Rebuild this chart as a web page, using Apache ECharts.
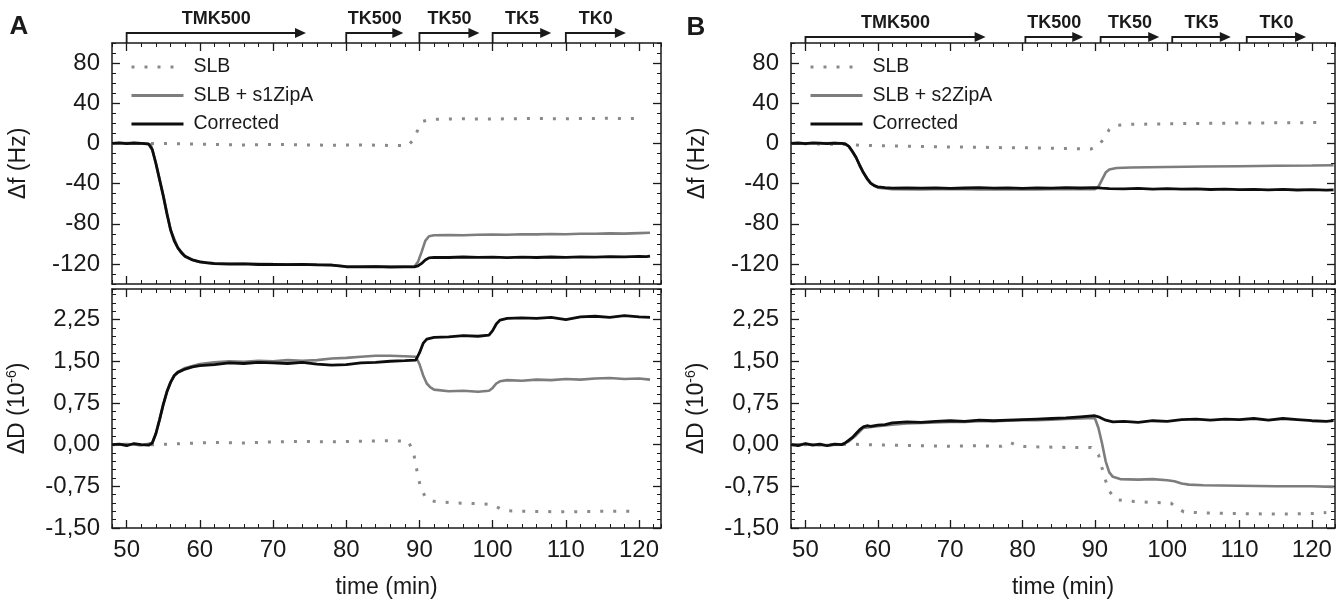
<!DOCTYPE html>
<html>
<head>
<meta charset="utf-8">
<script src="https://cdn.jsdelivr.net/npm/echarts@6/dist/echarts.min.js"></script>
<style>
html, body { margin: 0; background: #fff; }
#qcmChart { width: 1343px; height: 604px; }
</style>
</head>
<body>
<div id="qcmChart"></div>
<script>
// values, as [time (min), value]
var aFreqSLB = [[48,0],[50,0],[54,0],[58,-0.5],[62,-1],[66,-1.5],[70,-1],[74,-1.5],[78,-1.8],[82,-1.5],[86,-2],[88.5,-2],[89.3,5],[89.8,14],[90.5,22],[91.5,24],[95,24.5],[100,24.3],[105,24.8],[110,24.6],[115,25],[120,24.8]]
var aFreqZipA = [[48,0],[50,0.3],[52,0],[53.3,-1],[54,-20],[55,-52],[56,-86],[57,-104],[58,-112.5],[59,-116],[60,-118],[62,-119.5],[66,-119.8],[70,-120.2],[74,-120.3],[78,-121],[80,-122.5],[84,-122.4],[88,-122.7],[89.3,-122.8],[89.8,-118],[90.3,-108],[90.8,-97],[91.3,-92.5],[92,-91.5],[94,-91.3],[96,-91.4],[98,-91],[100,-90.8],[102,-91],[104,-90.5],[106,-90.6],[108,-90.2],[110,-90.4],[112,-90],[114,-89.9],[116,-89.6],[118,-89.8],[120,-89.3],[121.5,-89]]
var aFreqCorr = [[48,0],[49,0.5],[50,-0.3],[51,0.4],[52,0],[53,-0.5],[53.5,-6],[54,-20],[54.5,-36],[55,-52],[55.5,-70],[56,-86],[56.5,-97],[57,-104],[57.5,-109],[58,-112.5],[59,-116],[60,-118],[61,-119],[62,-119.8],[64,-120.3],[66,-120],[68,-120.6],[70,-120.4],[72,-120.8],[74,-120.5],[76,-120.9],[78,-121.2],[79,-122],[80,-122.8],[82,-123],[84,-122.6],[86,-123.2],[88,-122.9],[89.3,-123],[89.8,-122],[90.3,-119.5],[90.8,-116],[91.3,-114],[92,-113.4],[94,-113.6],[96,-113.1],[98,-113.5],[100,-113.2],[102,-113.8],[104,-113.3],[106,-113.6],[108,-113.1],[110,-113.4],[112,-112.9],[114,-113.2],[116,-112.7],[118,-112.9],[120,-112.4],[121,-112.8],[121.5,-112.3]]

var aDissSLB = [[48,0],[54,0],[58,0.02],[62,0.04],[66,0.03],[70,0.05],[74,0.06],[78,0.05],[82,0.06],[86,0.07],[88.5,0.06],[89.2,-0.15],[89.7,-0.5],[90.2,-0.8],[91,-0.98],[92,-1.02],[95,-1.05],[98,-1.06],[100,-1.08],[101,-1.15],[102,-1.19],[105,-1.2],[110,-1.21],[115,-1.2],[120,-1.2]]
var aDissZipA = [[48,0],[50,0.01],[52,-0.01],[53.5,0.03],[54,0.2],[54.5,0.45],[55,0.72],[55.5,0.95],[56,1.12],[56.5,1.25],[57,1.31],[58,1.38],[60,1.45],[62,1.48],[64,1.5],[66,1.49],[68,1.51],[70,1.5],[72,1.52],[74,1.51],[76,1.52],[78,1.55],[80,1.56],[82,1.58],[84,1.6],[86,1.6],[88,1.59],[89.5,1.58],[90,1.45],[90.5,1.25],[91,1.1],[91.5,1.03],[92,0.99],[94,0.96],[96,0.97],[98,0.95],[99.5,0.97],[100,1.02],[100.5,1.1],[101,1.14],[102,1.16],[104,1.15],[106,1.17],[108,1.16],[110,1.18],[112,1.17],[114,1.19],[116,1.2],[118,1.18],[120,1.19],[121.5,1.17]]
var aDissCorr = [[48,0],[49,0.01],[50,-0.02],[51,0.02],[52,0],[53,-0.01],[53.5,0.03],[54,0.2],[54.5,0.45],[55,0.72],[55.5,0.95],[56,1.12],[56.5,1.24],[57,1.3],[58,1.36],[59,1.4],[60,1.42],[62,1.44],[64,1.47],[66,1.46],[68,1.48],[70,1.47],[72,1.46],[74,1.48],[76,1.45],[78,1.43],[80,1.44],[82,1.47],[84,1.48],[86,1.5],[88,1.51],[89.5,1.52],[90,1.65],[90.5,1.82],[91,1.9],[92,1.93],[94,1.94],[96,1.96],[98,1.95],[99.5,1.97],[100,2.05],[100.5,2.17],[101,2.24],[102,2.27],[104,2.28],[106,2.27],[108,2.29],[110,2.25],[112,2.3],[114,2.31],[116,2.29],[118,2.32],[120,2.3],[121.5,2.29]]

var bFreqSLB = [[48,0],[55,-1],[58,-2],[62,-2.5],[66,-3],[70,-3.5],[74,-3.8],[78,-4.3],[82,-4.5],[86,-5],[89.5,-5.5],[90.5,-2],[91.3,5],[92,14],[92.8,18],[95,19],[100,19.5],[105,20],[110,20.3],[115,20.5],[120,20.7],[121.5,20.8]]
var bFreqZipA = [[48,0],[50,0.2],[52,0],[54,0.3],[55.5,-0.5],[56,-3],[57,-14],[58,-29],[59,-39.5],[60,-44],[62,-45.5],[66,-45.8],[70,-45.4],[74,-45.9],[78,-45.5],[82,-45.8],[86,-45.3],[90,-45.5],[90.5,-43],[91,-36],[91.5,-29],[92,-26],[93,-24.5],[95,-24],[100,-23.5],[105,-23],[110,-22.7],[115,-22.3],[120,-22],[123,-21.8]]
var bFreqCorr = [[48,0],[49,0.4],[50,-0.2],[51,0.5],[52,0.2],[53,-0.3],[54,0.3],[55,0],[55.5,-0.5],[56,-3],[56.5,-8],[57,-14],[57.5,-22],[58,-29],[58.5,-35],[59,-39.5],[59.5,-42],[60,-43.3],[61,-44],[62,-44.5],[64,-44.2],[66,-44.6],[68,-44.3],[70,-44.8],[72,-44.4],[74,-44.1],[76,-44.6],[78,-44.3],[80,-44.7],[82,-44.2],[84,-44.5],[86,-44],[88,-44.4],[90,-44],[91,-44.6],[92,-45],[94,-45.2],[96,-44.8],[98,-45.5],[100,-45.1],[102,-45.6],[104,-45.3],[106,-45.9],[108,-45.5],[110,-46],[112,-45.7],[114,-46.2],[116,-45.8],[118,-46.4],[120,-46],[122,-46.6],[123,-46.3]]

var bDissSLB = [[48,0],[55,0],[56,0.01],[58,0],[62,-0.01],[66,-0.02],[70,-0.03],[74,-0.02],[77,-0.03],[78.3,0.04],[79.5,-0.03],[82,-0.04],[86,-0.05],[89.5,-0.05],[90.5,-0.18],[91.2,-0.52],[91.9,-0.82],[92.9,-0.99],[95,-1.02],[98,-1.04],[100.5,-1.05],[101.2,-1.13],[102.3,-1.21],[105,-1.23],[110,-1.24],[115,-1.25],[120,-1.24],[122,-1.22]]
var bDissZipA = [[48,0],[50,0.01],[52,-0.01],[55,0],[56,0.06],[57,0.17],[58,0.3],[60,0.33],[62,0.36],[64,0.38],[66,0.39],[68,0.4],[70,0.41],[72,0.41],[74,0.42],[76,0.42],[78,0.43],[80,0.44],[82,0.44],[84,0.45],[86,0.46],[88,0.47],[90,0.48],[90.5,0.3],[91,0.02],[91.5,-0.3],[92,-0.5],[92.5,-0.58],[93.5,-0.62],[96,-0.63],[98,-0.62],[100,-0.64],[101,-0.66],[102,-0.7],[103,-0.72],[105,-0.73],[110,-0.74],[115,-0.75],[120,-0.75],[123,-0.76]]
var bDissCorr = [[48,0],[49,-0.02],[50,0.02],[51,-0.01],[52,0.01],[53,-0.02],[54,0.01],[55,0],[55.5,0.03],[56,0.08],[56.5,0.13],[57,0.2],[57.5,0.27],[58,0.32],[58.5,0.34],[59,0.33],[60,0.35],[61,0.36],[62,0.39],[64,0.41],[66,0.4],[68,0.42],[70,0.43],[72,0.42],[74,0.44],[76,0.43],[78,0.44],[80,0.45],[82,0.46],[84,0.47],[86,0.48],[88,0.5],[90,0.52],[90.5,0.5],[91.5,0.44],[92.5,0.41],[94,0.42],[96,0.4],[98,0.43],[100,0.42],[102,0.45],[104,0.46],[106,0.44],[108,0.46],[110,0.45],[112,0.47],[114,0.44],[116,0.47],[118,0.45],[120,0.43],[122,0.42],[123,0.43]]

var xMajor = [50, 60, 70, 80, 90, 100, 110, 120]
var freqMajor = [-120, -80, -40, 0, 40, 80]
var dissMajor = [-1.5, -0.75, 0, 0.75, 1.5, 2.25]

// buffer changes: [label, start (min), arrow end (min)]
var buffersA = [['TMK500', 50, 74.5], ['TK500', 80, 87.8], ['TK50', 90, 98.2], ['TK5', 100, 108], ['TK0', 110, 118.2]]
var buffersB = [['TMK500', 50, 74.9], ['TK500', 80.4, 88.4], ['TK50', 90.8, 98.9], ['TK5', 100.7, 108.8], ['TK0', 111, 119.2]]

var ink = '#1a1a1a'
var font = "'Liberation Sans', Arial, sans-serif"

var chart = echarts.init(document.getElementById('qcmChart'))

var grids = [
  {left: 112, top: 43, width: 549, height: 241},
  {left: 112, top: 289, width: 549, height: 239},
  {left: 791, top: 43, width: 544, height: 241},
  {left: 791, top: 289, width: 544, height: 239}
]
grids.forEach(function (g) { g.outerBoundsMode = 'none' })

// one axis with long ticks (+ labels) and a twin with short ticks
function axisPair(grid, range, step, major, pos, label, extra) {
  var common = {gridIndex: grid, type: 'value', min: range[0], max: range[1], interval: step, position: pos, splitLine: {show: false}}
  var main = Object.assign({}, common, {
    axisLine: {show: true, onZero: false, lineStyle: {color: ink, width: 1.5}},
    axisTick: {show: true, inside: true, length: 8, customValues: major, lineStyle: {color: ink, width: 1.3}},
    axisLabel: label ? Object.assign({show: true, customValues: major, color: ink, fontSize: 24, fontFamily: font}, label) : {show: false}
  }, extra || {})
  var minor = Object.assign({}, common, {
    axisLine: {show: false, onZero: false},
    axisTick: {show: true, inside: true, length: 4, lineStyle: {color: ink, width: 1}},
    axisLabel: {show: false}
  })
  return [main, minor]
}

var commaFmt = function (v) { return v.toFixed(2).replace('.', ',') }
var nameStyle = {color: ink, fontSize: 23, fontFamily: font}

var xAxes = []
var yAxes = []
grids.forEach(function (g, i) {
  var xMax = i < 2 ? 123 : 123.2
  var isBottom = i % 2 === 1
  var xExtra = isBottom ? {name: 'time (min)', nameLocation: 'middle', nameGap: 48, nameTextStyle: nameStyle} : null
  xAxes = xAxes.concat(
    axisPair(i, [48, xMax], 2, xMajor, 'bottom', isBottom ? {margin: 10} : null, xExtra),
    axisPair(i, [48, xMax], 2, xMajor, 'top', null)
  )
  var yRange = isBottom ? [-1.5, 2.8] : [-140, 100]
  var yStep = isBottom ? 0.15 : 10
  var yMajor = isBottom ? dissMajor : freqMajor
  var yLabel = isBottom ? {margin: 12, formatter: commaFmt} : {margin: 12}
  var yExtra = {
    name: isBottom ? 'ΔD (10{sup|-6})' : 'Δf (Hz)',
    nameLocation: 'middle', nameRotate: 90, nameGap: 82,
    nameTextStyle: Object.assign({rich: {sup: {fontSize: 14, verticalAlign: 'top', padding: [0, 0, 11, 0], color: ink, fontFamily: font}}}, nameStyle)
  }
  yAxes = yAxes.concat(
    axisPair(i, yRange, yStep, yMajor, 'left', yLabel, yExtra),
    axisPair(i, yRange, yStep, yMajor, 'right', null)
  )
})

function lineSeries(name, data, grid, kind) {
  var styles = {
    slb: {color: '#8a8a8a', width: 3, type: [3, 10]},
    zipa: {color: '#7d7d7d', width: 2.6, type: 'solid'},
    corr: {color: '#0d0d0d', width: 2.8, type: 'solid'}
  }
  var s = styles[kind]
  return {
    name: name, type: 'line', data: data,
    xAxisIndex: grid * 4, yAxisIndex: grid * 4,
    symbol: 'none', smooth: false,
    lineStyle: {color: s.color, width: s.width, type: s.type},
    itemStyle: {color: s.color},
    z: kind === 'corr' ? 4 : 3
  }
}

var series = [
  lineSeries('SLB', aFreqSLB, 0, 'slb'),
  lineSeries('SLB + s1ZipA', aFreqZipA, 0, 'zipa'),
  lineSeries('Corrected', aFreqCorr, 0, 'corr'),
  lineSeries('SLB', aDissSLB, 1, 'slb'),
  lineSeries('SLB + s1ZipA', aDissZipA, 1, 'zipa'),
  lineSeries('Corrected', aDissCorr, 1, 'corr'),
  lineSeries('SLB', bFreqSLB, 2, 'slb'),
  lineSeries('SLB + s2ZipA', bFreqZipA, 2, 'zipa'),
  lineSeries('Corrected', bFreqCorr, 2, 'corr'),
  lineSeries('SLB', bDissSLB, 3, 'slb'),
  lineSeries('SLB + s2ZipA', bDissZipA, 3, 'zipa'),
  lineSeries('Corrected', bDissCorr, 3, 'corr')
]

function legendAt(left, names) {
  return {
    left: left, top: 52, orient: 'vertical',
    data: names, itemWidth: 52, itemHeight: 14, itemGap: 8.5,
    lineStyle: {width: 3},
    itemStyle: {color: 'rgba(0,0,0,0)', borderWidth: 0, opacity: 0},
    textStyle: {color: ink, fontSize: 19.5, fontFamily: font, padding: [0, 0, 0, 5]},
    selectedMode: false
  }
}

var option = {
  animation: false,
  backgroundColor: '#fff',
  grid: grids,
  xAxis: xAxes,
  yAxis: yAxes,
  legend: [
    legendAt(125, ['SLB', 'SLB + s1ZipA', 'Corrected']),
    legendAt(804, ['SLB', 'SLB + s2ZipA', 'Corrected'])
  ],
  series: series
}
chart.setOption(option)

// arrows for the buffer changes, placed through the x axis of each top panel
function arrows(buffers, xAxisIndex, yLine, yText) {
  var top = 43
  var out = []
  buffers.forEach(function (b) {
    var x0 = chart.convertToPixel({xAxisIndex: xAxisIndex}, b[1])
    var x1 = chart.convertToPixel({xAxisIndex: xAxisIndex}, b[2])
    out.push({type: 'polyline', shape: {points: [[x0, top], [x0, yLine], [x1 - 8, yLine]]}, style: {stroke: ink, lineWidth: 1.8, fill: null}})
    out.push({type: 'polygon', shape: {points: [[x1 - 11, yLine - 5], [x1, yLine], [x1 - 11, yLine + 5]]}, style: {fill: ink}})
    out.push({type: 'text', x: (x0 + x1) / 2, y: yText, style: {text: b[0], font: 'bold 18px ' + font, fill: ink, align: 'center', verticalAlign: 'middle'}})
  })
  return out
}

var graphics = [
  {type: 'text', x: 19, y: 27, style: {text: 'A', font: 'bold 26px ' + font, fill: ink, align: 'center', verticalAlign: 'middle'}},
  {type: 'text', x: 696, y: 28, style: {text: 'B', font: 'bold 26px ' + font, fill: ink, align: 'center', verticalAlign: 'middle'}}
].concat(arrows(buffersA, 0, 33, 19), arrows(buffersB, 8, 37, 23))

chart.setOption({graphic: {elements: graphics}})
</script>
</body>
</html>
